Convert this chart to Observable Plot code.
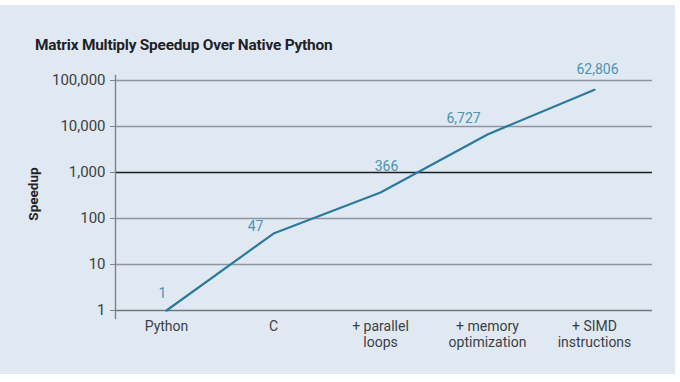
<!DOCTYPE html>
<html>
<head>
<meta charset="utf-8">
<script src="https://cdn.jsdelivr.net/npm/d3@7"></script>
<script src="https://cdn.jsdelivr.net/npm/@observablehq/plot@0.6"></script>
<style>
  html, body { margin: 0; padding: 0; background: #ffffff; }
  #card { position: absolute; left: 0; top: 5px; width: 675px; height: 369px; background: #e0e9f1; font-family: Roboto, "Noto Sans", sans-serif; }
  #title { position: absolute; left: 35px; top: 31px; font-size: 15.4px; font-weight: 700; color: #1e2228; letter-spacing: -0.2px; }
  #ylabel { position: absolute; left: 33px; top: 189px; transform: translate(-50%, -50%) rotate(-90deg); font-size: 13.5px; font-weight: 700; color: #1e2228; }
  #chart { position: absolute; left: 0; top: 0; }
</style>
</head>
<body>
<div id="card">
  <div id="chart"></div>
  <div id="title">Matrix Multiply Speedup Over Native Python</div>
  <div id="ylabel">Speedup</div>
</div>
<script>
const categories = ["Python", "C", "+ parallel\nloops", "+ memory\noptimization", "+ SIMD\ninstructions"];
const speedups = [1, 47, 366, 6727, 62806];
const yTicks = [1, 10, 100, 1000, 10000, 100000];

const data = categories.map((c, i) => ({step: c, speedup: speedups[i]}));
const fmt = d3.format(",");
const labelOffsets = [[-4, -17], [-18, -7], [6, -26], [-24, -16], [3, -20]];

const chart = Plot.plot({
  width: 675,
  height: 369,
  marginLeft: 115,
  marginRight: 23,
  marginTop: 75,
  marginBottom: 64,
  style: {background: "transparent", fontFamily: "Roboto, 'Noto Sans', sans-serif", fontSize: "13px", color: "#3a3f46"},
  x: {type: "point", domain: categories, padding: 0.47, insetRight: 8, label: null},
  y: {type: "log", domain: [1, 100000], label: null},
  marks: [
    Plot.ruleY(yTicks.filter(d => d !== 1000 && d !== 1), {stroke: "#8d969e", strokeWidth: 1.3}),
    Plot.ruleY([1], {stroke: "#6f777f", strokeWidth: 1.4}),
    Plot.ruleY([1000], {stroke: "#1c1f24", strokeWidth: 1.4}),
    Plot.frame({anchor: "left", stroke: "#7c848c", strokeWidth: 1.4, insetTop: -5, insetBottom: -8}),
    Plot.axisY({ticks: yTicks, tickFormat: fmt, tickSize: 5, tickPadding: 5, stroke: "#7c848c", fill: "#3a3f46", fontSize: 15}),
    Plot.axisX({tickSize: 0, tickPadding: 9, fill: "#3a3f46", fontSize: 14, lineHeight: 1.15}),
    Plot.line(data, {x: "step", y: "speedup", stroke: "#2a7a9e", strokeWidth: 2.2}),
    ...data.map((d, i) => Plot.text([d], {
      x: "step", y: "speedup", text: (r) => fmt(r.speedup),
      dx: labelOffsets[i][0], dy: labelOffsets[i][1],
      fill: "#4a93b6", fontSize: 14
    }))
  ]
});
document.getElementById("chart").appendChild(chart);
</script>
</body>
</html>
